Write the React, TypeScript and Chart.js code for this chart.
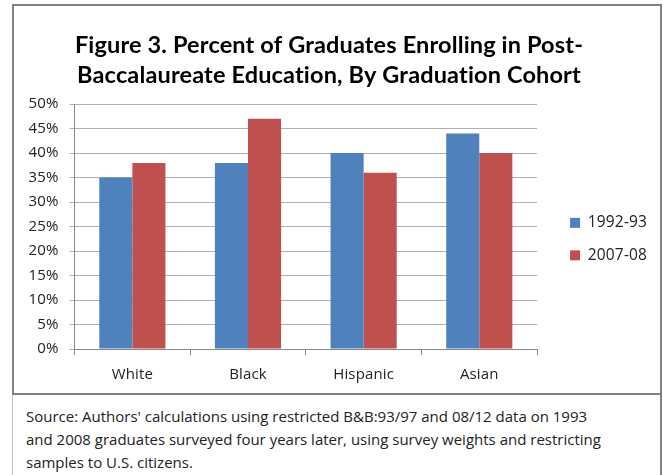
import React, { useEffect, useRef } from "react";
import { Chart, registerables } from "chart.js";

Chart.register(...registerables);

const categories = ["White", "Black", "Hispanic", "Asian"];
const series1Label = "1992-93";
const series1Values = [35, 38, 40, 44];
const series2Label = "2007-08";
const series2Values = [38, 47, 36, 40];
const titleLines = [
  "Figure 3. Percent of Graduates Enrolling in Post-",
  "Baccalaureate Education, By Graduation Cohort",
];
const sourceLines = [
  "Source: Authors' calculations using restricted B&B:93/97 and 08/12 data on 1993",
  "and 2008 graduates surveyed four years later, using survey weights and restricting",
  "samples to U.S. citizens.",
];

const TITLE_FONT = "Lato, 'Open Sans', sans-serif";
const FONT = "'Open Sans', 'DejaVu Sans', sans-serif";

const noLigatures = {
  id: "noLigatures",
  beforeDraw(chart: any) {
    try {
      chart.ctx.letterSpacing = "0.15px";
    } catch (e) {}
  },
};

const shiftLegend = {
  id: "shiftLegend",
  afterLayout(chart: any) {
    const lg = chart.legend;
    if (lg) {
      lg.left += 16;
      lg.right += 16;
    }
  },
};

export default function App() {
  const ref = useRef<HTMLCanvasElement | null>(null);
  useEffect(() => {
    if (!ref.current) return;
    const chart = new Chart(ref.current, {
      type: "bar",
      data: {
        labels: categories,
        datasets: [
          {
            label: series1Label,
            data: series1Values,
            backgroundColor: "#4F81BD",
            categoryPercentage: 0.572,
            barPercentage: 1,
          },
          {
            label: series2Label,
            data: series2Values,
            backgroundColor: "#C0504D",
            categoryPercentage: 0.572,
            barPercentage: 1,
          },
        ],
      },
      plugins: [noLigatures, shiftLegend],
      options: {
        animation: false,
        responsive: false,
        maintainAspectRatio: false,
        layout: { padding: { left: 4, right: 20, bottom: -2 } },
        plugins: {
          title: {
            display: true,
            text: titleLines,
            color: "#000",
            font: { family: TITLE_FONT, size: 23.5, weight: "bold", lineHeight: 1.3 },
            padding: { top: 24, bottom: 13 },
          },
          legend: {
            position: "right",
            title: { display: true, text: " ", padding: { top: 38, bottom: 38 }, font: { size: 1 } },
            labels: {
              color: "#222",
              font: { family: FONT, size: 15.5 },
              boxWidth: 10,
              boxHeight: 10,
              padding: 17,
            },
          },
          tooltip: { enabled: false },
        },
        scales: {
          x: {
            grid: {
              display: true,
              drawOnChartArea: false,
              drawTicks: true,
              tickLength: 6,
              color: "#888",
            },
            border: { display: true, color: "#888" },
            ticks: {
              color: "#222",
              font: { family: FONT, size: 15 },
              padding: 11,
            },
          },
          y: {
            min: 0,
            max: 50,
            grid: {
              color: "#b0b0b0",
              tickLength: 5,
            },
            border: { display: true, color: "#888" },
            ticks: {
              stepSize: 5,
              color: "#222",
              font: { family: FONT, size: 15 },
              padding: 11,
              callback: (v: any) => v + "%",
            },
          },
        },
      },
    });
    return () => chart.destroy();
  }, []);

  return (
    <div>
      <div
        style={{
          position: "absolute",
          left: 12,
          top: 4,
          width: 650,
          height: 391,
          boxSizing: "border-box",
          border: "2px solid #808080",
          background: "#fff",
        }}
      >
        <canvas ref={ref} width={646} height={387} style={{ display: "block" }} />
      </div>
      <div
        style={{
          position: "absolute",
          left: 12,
          top: 395,
          width: 650,
          height: 80,
          boxSizing: "border-box",
          borderLeft: "1px solid #c0c0c0",
          borderRight: "2px solid #808080",
          padding: "10px 10px 0 13px",
          fontFamily: FONT,
          fontSize: 15,
          lineHeight: "23px",
          color: "#222",
          whiteSpace: "nowrap",
        }}
      >
        {sourceLines.map((l, i) => (
          <div key={i}>{l}</div>
        ))}
      </div>
    </div>
  );
}
